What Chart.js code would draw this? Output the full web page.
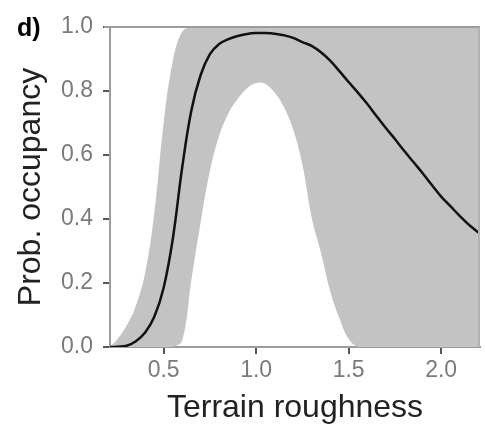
<!DOCTYPE html>
<html>
<head>
<meta charset="utf-8">
<script src="https://cdn.jsdelivr.net/npm/chart.js@4/dist/chart.umd.min.js"></script>
<style>
  html, body { margin: 0; padding: 0; background: #ffffff; }
  #wrap { width: 485px; height: 425px; }
</style>
</head>
<body>
<div id="wrap"><canvas id="c" width="485" height="425"></canvas></div>
<script>
// Terrain roughness values (x)
const roughness = [0.21, 0.25, 0.3, 0.35, 0.4, 0.45, 0.5, 0.55, 0.6, 0.65,
                   0.7, 0.75, 0.8, 0.85, 0.9, 0.95, 1.0, 1.05, 1.1, 1.15,
                   1.2, 1.25, 1.3, 1.35, 1.4, 1.45, 1.5, 1.55, 1.6, 1.65,
                   1.7, 1.75, 1.8, 1.85, 1.9, 1.95, 2.0, 2.05, 2.1, 2.15, 2.21];
// Mean probability of occupancy
const meanOcc = [0, 0.001, 0.004, 0.018, 0.045, 0.095, 0.185, 0.34, 0.56, 0.74,
                 0.85, 0.915, 0.947, 0.962, 0.972, 0.978, 0.981, 0.981, 0.979, 0.974,
                 0.966, 0.953, 0.941, 0.921, 0.895, 0.862, 0.828, 0.795, 0.76, 0.722,
                 0.685, 0.65, 0.613, 0.578, 0.543, 0.506, 0.47, 0.44, 0.41, 0.382, 0.354];
// Upper confidence bound
const upperCI = [0, 0.024, 0.067, 0.129, 0.232, 0.42, 0.7, 0.895, 0.985, 1,
                 1, 1, 1, 1, 1, 1, 1, 1, 1, 1,
                 1, 1, 1, 1, 1, 1, 1, 1, 1, 1,
                 1, 1, 1, 1, 1, 1, 1, 1, 1, 1, 1];
// Lower confidence bound
const lowerCI = [0, 0, 0, 0, 0, 0, 0, 0, 0.02, 0.21,
                 0.39, 0.55, 0.66, 0.73, 0.775, 0.808, 0.825, 0.822, 0.795, 0.75,
                 0.68, 0.57, 0.405, 0.295, 0.175, 0.09, 0.025, 0, 0, 0,
                 0, 0, 0, 0, 0, 0, 0, 0, 0, 0, 0];
const xTicks = [0.5, 1.0, 1.5, 2.0];
const yTicks = [0.0, 0.2, 0.4, 0.6, 0.8, 1.0];

const pts = arr => roughness.map((x, i) => ({ x: x, y: arr[i] }));

const FONT = "'Liberation Sans', Arial, sans-serif";

const framePlugin = {
  id: 'frame',
  afterDraw(chart) {
    const { ctx, chartArea: a } = chart;
    ctx.save();
    ctx.strokeStyle = '#9c9c9c';
    ctx.lineWidth = 2;
    ctx.beginPath();
    ctx.moveTo(a.left - 6, a.top);
    ctx.lineTo(a.right, a.top);
    ctx.stroke();
    ctx.strokeStyle = '#b0b0b0';
    ctx.beginPath();
    ctx.moveTo(a.right - 1, a.top);
    ctx.lineTo(a.right - 1, a.bottom);
    ctx.stroke();
    ctx.fillStyle = '#000000';
    ctx.font = "bold 25px " + FONT;
    ctx.textBaseline = 'alphabetic';
    ctx.textAlign = 'left';
    ctx.fillText('d)', 17, 36);
    ctx.restore();
  }
};

new Chart(document.getElementById('c'), {
  type: 'line',
  data: {
    datasets: [
      { label: 'mean', data: pts(meanOcc), borderColor: '#111111', borderWidth: 2.5,
        pointRadius: 0, fill: false, tension: 0.4 },
      { label: 'upper', data: pts(upperCI), borderWidth: 0, borderColor: 'rgba(0,0,0,0)',
        backgroundColor: '#c3c3c3', pointRadius: 0, fill: '+1', tension: 0.4 },
      { label: 'lower', data: pts(lowerCI), borderWidth: 0, borderColor: 'rgba(0,0,0,0)',
        pointRadius: 0, fill: false, tension: 0.4 }
    ]
  },
  options: {
    responsive: false,
    devicePixelRatio: 1,
    animation: false,
    layout: { padding: { top: 27, right: 5, bottom: 0, left: 0 } },
    plugins: { legend: { display: false }, tooltip: { enabled: false } },
    scales: {
      x: {
        type: 'linear', min: 0.21, max: 2.21,
        afterBuildTicks: s => { s.ticks = xTicks.map(v => ({ value: v })); },
        afterFit: s => { s.height = 78; },
        border: { display: true, color: '#9c9c9c', width: 2 },
        grid: { drawOnChartArea: false, drawTicks: true, tickLength: 7, color: '#555555', lineWidth: 2 },
        ticks: { color: '#7a7a7a', font: { family: FONT, size: 23 }, padding: 3,
                 maxRotation: 0, callback: v => v.toFixed(1) },
        title: { display: true, text: 'Terrain roughness', color: '#222222',
                 font: { family: FONT, size: 32 }, padding: { top: 0, bottom: -2 } }
      },
      y: {
        type: 'linear', min: 0, max: 1,
        afterBuildTicks: s => { s.ticks = yTicks.map(v => ({ value: v })); },
        afterFit: s => { s.width = 110; },
        border: { display: true, color: '#9c9c9c', width: 2 },
        grid: { drawOnChartArea: false, drawTicks: true, tickLength: 7, color: '#555555', lineWidth: 2 },
        ticks: { color: '#7a7a7a', font: { family: FONT, size: 23 }, padding: 10,
                 callback: v => v.toFixed(1) },
        title: { display: true, text: 'Prob. occupancy', color: '#222222',
                 font: { family: FONT, size: 32 }, padding: { top: 12, bottom: 0 } }
      }
    }
  },
  plugins: [framePlugin]
});
</script>
</body>
</html>
